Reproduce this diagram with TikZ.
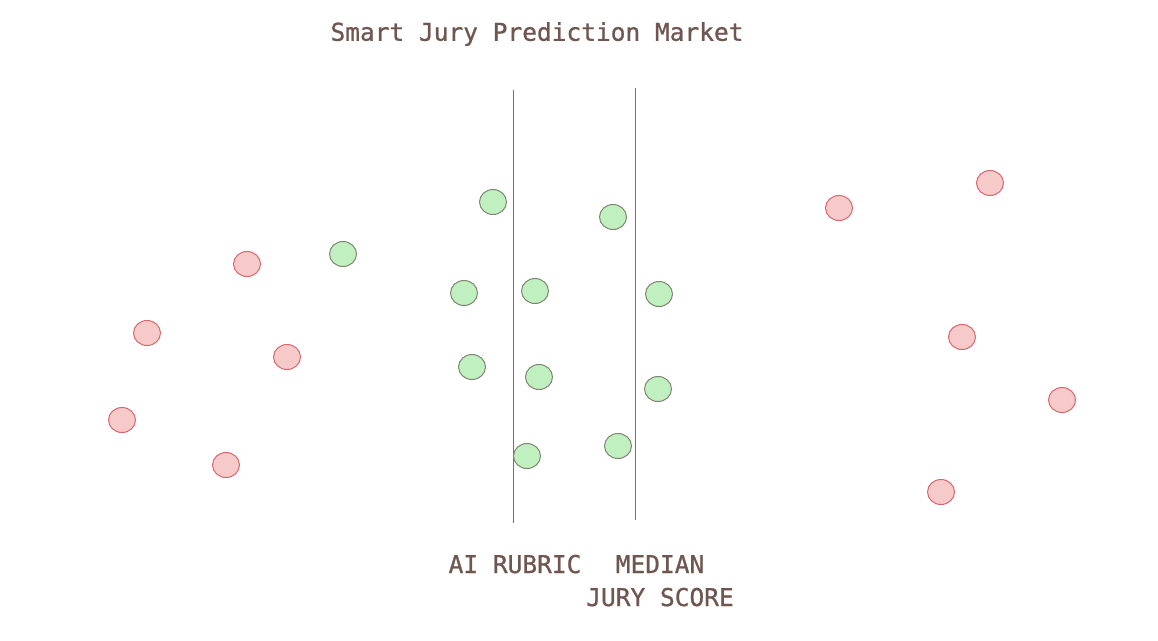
\documentclass[tikz,border=0pt]{standalone}
\usepackage{fontspec}
\setmonofont[FakeBold=0.9]{DejaVu Sans Mono}
\usetikzlibrary{shapes.geometric}
\definecolor{txtc}{HTML}{6F5750}
\definecolor{linec}{HTML}{7F6D6A}
\definecolor{gfill}{HTML}{C0F0C0}
\definecolor{gline}{HTML}{7E8470}
\definecolor{rfill}{HTML}{F7CACA}
\definecolor{rline}{HTML}{D9666A}
\tikzset{
  good/.style={ellipse,draw=gline,fill=gfill,line width=1pt,minimum width=27pt,minimum height=25pt,inner sep=0pt},
  bad/.style={ellipse,draw=rline,fill=rfill,line width=1pt,minimum width=27pt,minimum height=25pt,inner sep=0pt},
  lbl/.style={text=txtc,font=\fontsize{24.5}{33}\selectfont\ttfamily,inner sep=0pt,align=center},
  axis/.style={draw=linec,line width=1pt}
}
\begin{document}
\begin{tikzpicture}[x=1pt,y=-1pt]
\useasboundingbox (0,0) rectangle (1158,640);
\node[lbl] (title) at (537,34) {Smart Jury Prediction Market};
\coordinate (a1) at (513,90);
\coordinate (a2) at (513,523);
\coordinate (m1) at (635,88);
\coordinate (m2) at (635,520);
\draw[axis] (a1) -- (a2);
\draw[axis] (m1) -- (m2);
\node[lbl,anchor=base] (ai) at (515,573) {AI RUBRIC};
\node[lbl,anchor=base] (med) at (660,573) {MEDIAN};
\node[lbl,anchor=base] (jury) at (660,606) {JURY SCORE};
% red
\node[bad] (r1) at (247,264) {};
\node[bad] (r2) at (147,333) {};
\node[bad] (r3) at (287,357) {};
\node[bad] (r4) at (122,420) {};
\node[bad] (r5) at (226,465) {};
\node[bad] (r6) at (839,208) {};
\node[bad] (r7) at (990,183) {};
\node[bad] (r8) at (962,337) {};
\node[bad] (r9) at (1062,400) {};
\node[bad] (r10) at (941,492) {};
% green
\node[good] (g1) at (343,254) {};
\node[good] (g2) at (493,202) {};
\node[good] (g3) at (613,217) {};
\node[good] (g4) at (464,293) {};
\node[good] (g5) at (535,291) {};
\node[good] (g6) at (659,294) {};
\node[good] (g7) at (472,367) {};
\node[good] (g8) at (539,377) {};
\node[good] (g9) at (658,389) {};
\node[good] (g10) at (527,456) {};
\node[good] (g11) at (618,446) {};
\end{tikzpicture}
\end{document}
